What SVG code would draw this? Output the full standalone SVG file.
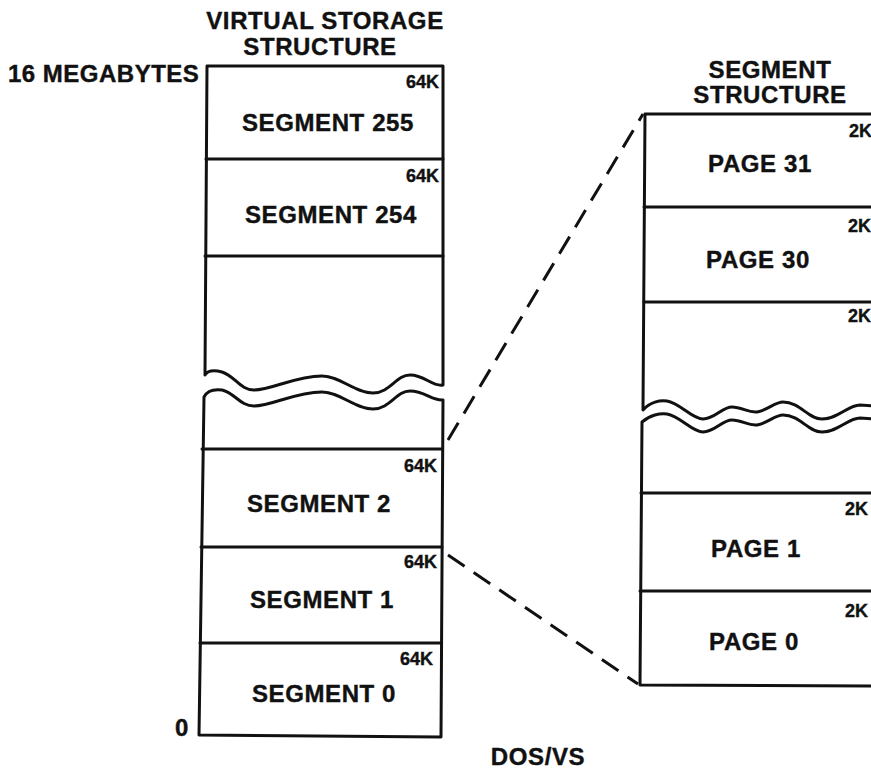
<svg xmlns="http://www.w3.org/2000/svg" width="871" height="769" viewBox="0 0 871 769">
<style>
.t{font-family:"Liberation Sans",Arial,Helvetica,sans-serif;font-weight:bold;fill:#111;stroke:#111;stroke-width:0.4;}
.lbl{font-size:24px;letter-spacing:0.6px;text-anchor:middle;}
.k{font-size:18px;letter-spacing:0;}
.ke{text-anchor:end;}
.ln{fill:none;stroke:#111;stroke-width:3;stroke-linecap:round;stroke-linejoin:round;}
.dash{fill:none;stroke:#111;stroke-width:3;stroke-dasharray:20 11;}
</style>
<rect width="871" height="769" fill="#fff"/>

<g id="titles">
<text class="t lbl" x="325" y="29">VIRTUAL STORAGE</text>
<text class="t lbl" x="320" y="55">STRUCTURE</text>
<text class="t lbl" x="770" y="78">SEGMENT</text>
<text class="t lbl" x="770" y="103">STRUCTURE</text>
<text class="t" style="font-size:24px;letter-spacing:0.5px" x="8" y="82">16 MEGABYTES</text>
<text class="t" style="font-size:24px" x="175" y="736">0</text>
<text class="t lbl" x="538" y="765">DOS/VS</text>
</g>

<g id="virtual-storage-frame">
<path class="ln" d="M207,66 L443,66 L443,385 C432,387 425,375 410,375 C396,375 390,393 373,393 C355,393 340,376 322,376 C295,376 272,390 254,390 C240,390 235,376 222,372 C214,370 208,370 205,375 Z"/>
<path class="ln" d="M199,735 L204,397 C207,391 214,389 222,390 C235,393 240,406 254,406 C272,406 295,392 322,392 C340,392 355,409 373,409 C390,409 396,391 410,391 C425,391 432,401 443,400 L441,737 Z"/>
</g>

<g id="segment-255">
<text class="t k ke" x="439" y="88">64K</text>
<text class="t lbl" x="328" y="131">SEGMENT 255</text>
</g>
<g id="segment-254">
<line class="ln" x1="206" y1="159" x2="443" y2="159"/>
<text class="t k ke" x="439" y="182">64K</text>
<text class="t lbl" x="331" y="223">SEGMENT 254</text>
</g>
<g id="segment-gap">
<line class="ln" x1="205" y1="256" x2="443" y2="256"/>
</g>
<g id="segment-2">
<line class="ln" x1="202" y1="449" x2="442" y2="449"/>
<text class="t k ke" x="437" y="472">64K</text>
<text class="t lbl" x="319" y="512">SEGMENT 2</text>
</g>
<g id="segment-1">
<line class="ln" x1="201" y1="547" x2="442" y2="547"/>
<text class="t k ke" x="437" y="568">64K</text>
<text class="t lbl" x="322" y="608">SEGMENT 1</text>
</g>
<g id="segment-0">
<line class="ln" x1="200" y1="643" x2="441" y2="643"/>
<text class="t k ke" x="433" y="665">64K</text>
<text class="t lbl" x="324" y="702">SEGMENT 0</text>
</g>

<g id="segment-structure-frame">
<path class="ln" d="M875,114 L645,114 L643,410 C650,402 660,400 667,401 C680,403 692,419 703,419 C715,419 722,407 732,407 C742,407 748,413 757,412 C768,410 775,402 783,402 C800,402 808,419 822,419 C838,419 848,405 860,405 L875,406"/>
<path class="ln" d="M875,419 L860,418 C848,418 838,432 822,432 C808,432 800,415 783,415 C775,415 768,423 757,425 C748,426 742,420 732,420 C722,420 715,432 703,432 C692,432 680,416 667,414 C660,413 650,415 642,422 L640,685 L875,686"/>
</g>

<g id="page-31">
<text class="t k" x="849" y="137">2K</text>
<text class="t lbl" x="760" y="172">PAGE 31</text>
</g>
<g id="page-30">
<line class="ln" x1="644" y1="207" x2="875" y2="207"/>
<text class="t k" x="848" y="232">2K</text>
<text class="t lbl" x="758" y="268">PAGE 30</text>
</g>
<g id="page-gap">
<line class="ln" x1="644" y1="302" x2="875" y2="302"/>
<text class="t k" x="848" y="322">2K</text>
</g>
<g id="page-1">
<line class="ln" x1="641" y1="493" x2="875" y2="493"/>
<text class="t k" x="845" y="515">2K</text>
<text class="t lbl" x="756" y="557">PAGE 1</text>
</g>
<g id="page-0">
<line class="ln" x1="640" y1="591" x2="875" y2="591"/>
<text class="t k" x="845" y="617">2K</text>
<text class="t lbl" x="754" y="650">PAGE 0</text>
</g>

<g id="connectors">
<line class="dash" x1="448" y1="440" x2="643" y2="114"/>
<line class="dash" x1="448" y1="555" x2="638" y2="684"/>
</g>
</svg>
